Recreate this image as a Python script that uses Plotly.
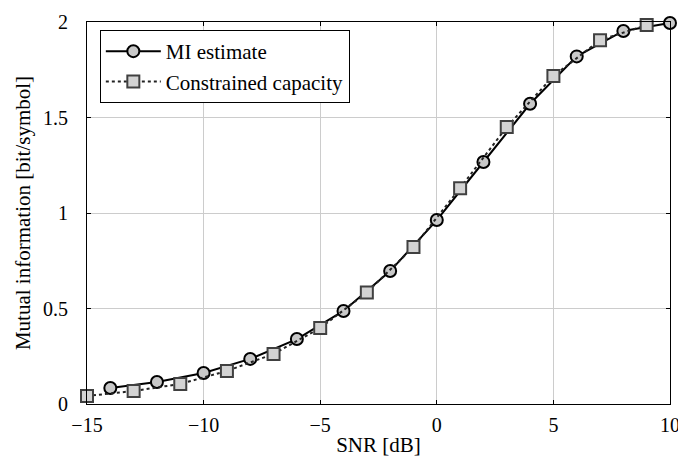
import plotly.graph_objects as go

snr_mi = [-14, -12, -10, -8, -6, -4, -2, 0, 2, 4, 6, 8, 10]
mi_est = [0.084, 0.115, 0.162, 0.236, 0.34, 0.487, 0.696, 0.963, 1.267, 1.572, 1.82, 1.953, 1.995]

snr_cap = [-15, -13, -11, -9, -7, -5, -3, -1, 1, 3, 5, 7, 9]
cap = [0.042, 0.068, 0.105, 0.173, 0.262, 0.398, 0.584, 0.822, 1.13, 1.45, 1.717, 1.905, 1.984]

x_ticks = [-15, -10, -5, 0, 5, 10]
x_labels = ["\u221215", "\u221210", "\u22125", "0", "5", "10"]
y_ticks = [0, 0.5, 1, 1.5, 2]
y_labels = ["0", "0.5", "1", "1.5", "2"]

font = "Liberation Serif"
fs = 21
fs_tick = 20

fig = go.Figure()
fig.add_trace(go.Scatter(
    x=snr_mi, y=mi_est, mode="lines+markers", name="MI estimate",
    line=dict(color="black", width=2),
    marker=dict(symbol="circle", size=12, color="#c8c8c8",
                line=dict(color="black", width=2)),
    cliponaxis=False,
))
fig.add_trace(go.Scatter(
    x=snr_cap, y=cap, mode="lines+markers", name="Constrained capacity",
    line=dict(color="#222222", width=2, dash="dot"),
    marker=dict(symbol="square", size=12, color="#d3d3d3",
                line=dict(color="#404040", width=2)),
    cliponaxis=False,
))

axis_common = dict(
    showline=True, linecolor="black", linewidth=1, mirror="ticks",
    ticks="inside", ticklen=4, tickcolor="black", tickwidth=1,
    showgrid=True, gridcolor="#cccccc", gridwidth=1, zeroline=False,
    tickfont=dict(family=font, size=fs_tick, color="black"),
    automargin=False,
)

fig.update_xaxes(range=[-15, 10], tickvals=x_ticks, ticktext=x_labels,
                 ticklabelstandoff=3,
                 title=dict(text="SNR [dB]", font=dict(family=font, size=fs, color="black"), standoff=2),
                 **axis_common)
fig.update_yaxes(range=[0, 2], tickvals=y_ticks, ticktext=y_labels,
                 ticklabelstandoff=14,
                 title=dict(text="Mutual information [bit/symbol]", font=dict(family=font, size=fs, color="black"), standoff=6),
                 **axis_common)

fig.update_layout(
    width=686, height=460,
    margin=dict(l=79, r=24, t=14, b=64),
    plot_bgcolor="white", paper_bgcolor="white",
    font=dict(family=font, size=fs, color="black"),
    legend=dict(x=0.022, y=0.979, xanchor="left", yanchor="top",
                bgcolor="white", bordercolor="black", borderwidth=1,
                font=dict(family=font, size=fs, color="black"),
                itemwidth=55, tracegroupgap=0),
    showlegend=True,
)

fig.write_html("out.html")
